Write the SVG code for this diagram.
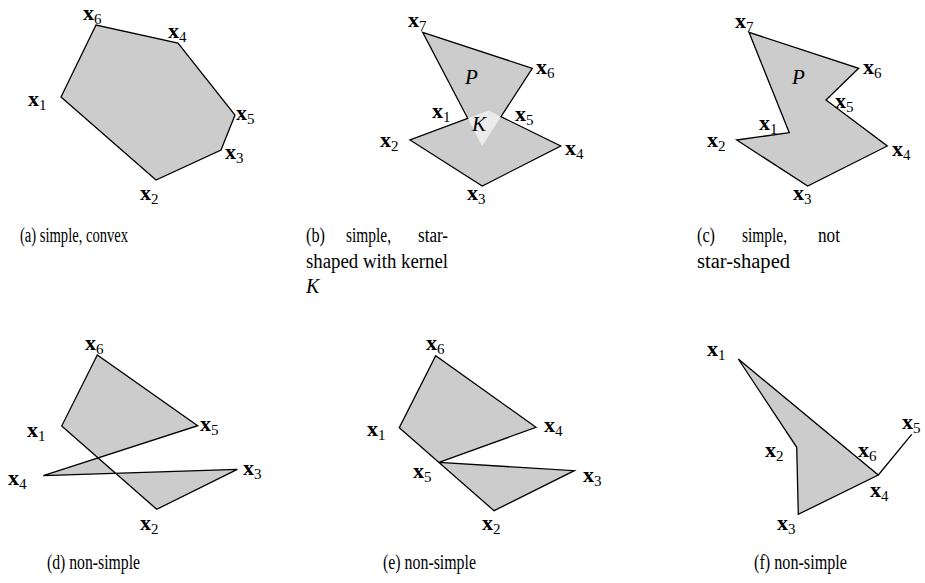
<svg xmlns="http://www.w3.org/2000/svg" width="925" height="583" viewBox="0 0 925 583">
<style>
.poly{fill:#cccccc;stroke:#000;stroke-width:1.3;stroke-linejoin:miter}
.fillonly{fill:#cccccc;stroke:none}
.edge{fill:none;stroke:#000;stroke-width:1.3}
.kern{fill:#ebebeb;stroke:none}
.v{font-family:"Liberation Serif",serif;fill:#000}
.xb{font-weight:bold;font-size:22px}
.sub{font-size:15px}
.it{font-family:"Liberation Serif",serif;font-style:italic;font-size:21px;fill:#000}
.cap{font-family:"Liberation Serif",serif;font-size:20px;fill:#000}
</style>
<rect width="925" height="583" fill="#fff"/>
<g id="connectors">
<polygon id="poly-a" class="poly" points="61,97 156,180 221,150 235,115 178,43 96,25"/>
<polygon id="poly-b-fill" class="fillonly" points="467.7,118.3 410,140 482.3,186 560.7,146 501,116.7 532.3,68.3 422.7,32.3"/>
<polygon id="kernel-b" class="kern" points="467.7,118.3 488.5,110.5 501,116.7 482.1,145.9"/>
<polygon id="poly-b" class="edge" points="467.7,118.3 410,140 482.3,186 560.7,146 501,116.7 532.3,68.3 422.7,32.3"/>
<polygon id="poly-c" class="poly" points="789.3,132.7 736.7,140 807.7,186 887.3,146 826,100 858.7,68.3 749,32.3"/>
<polygon id="poly-d" class="poly" points="61.7,426 156.7,509.3 237.3,469.3 43.3,475.7 197.7,425.7 97.3,355"/>
<polygon id="poly-e" class="poly" points="399.3,427.7 494,510.7 574.3,470.7 439,462.4 536,427.3 435.7,355.7"/>
<path id="poly-f" class="poly" d="M738.3,359 L796.7,447.3 L798.3,514.3 L878.3,475 L911.7,434.3 L878.3,475 Z"/>
</g>
<g id="panel-a">
<g id="a-x6"><text class="v" x="83" y="20"><tspan class="xb">x</tspan><tspan class="sub" dy="4">6</tspan></text></g>
<g id="a-x4"><text class="v" x="168" y="38"><tspan class="xb">x</tspan><tspan class="sub" dy="4">4</tspan></text></g>
<g id="a-x1"><text class="v" x="28" y="106"><tspan class="xb">x</tspan><tspan class="sub" dy="4">1</tspan></text></g>
<g id="a-x5"><text class="v" x="236" y="120"><tspan class="xb">x</tspan><tspan class="sub" dy="4">5</tspan></text></g>
<g id="a-x3"><text class="v" x="225" y="159"><tspan class="xb">x</tspan><tspan class="sub" dy="4">3</tspan></text></g>
<g id="a-x2"><text class="v" x="140" y="200"><tspan class="xb">x</tspan><tspan class="sub" dy="4">2</tspan></text></g>
</g>
<g id="panel-b">
<g id="b-x7"><text class="v" x="408" y="27"><tspan class="xb">x</tspan><tspan class="sub" dy="4">7</tspan></text></g>
<g id="b-x6"><text class="v" x="536" y="74"><tspan class="xb">x</tspan><tspan class="sub" dy="4">6</tspan></text></g>
<g id="b-P"><text class="it" x="465" y="84">P</text></g>
<g id="b-x1"><text class="v" x="432" y="118"><tspan class="xb">x</tspan><tspan class="sub" dy="4">1</tspan></text></g>
<g id="b-x5"><text class="v" x="515" y="121"><tspan class="xb">x</tspan><tspan class="sub" dy="4">5</tspan></text></g>
<g id="b-K"><text class="it" x="472" y="131">K</text></g>
<g id="b-x2"><text class="v" x="380" y="147"><tspan class="xb">x</tspan><tspan class="sub" dy="4">2</tspan></text></g>
<g id="b-x4"><text class="v" x="565" y="155"><tspan class="xb">x</tspan><tspan class="sub" dy="4">4</tspan></text></g>
<g id="b-x3"><text class="v" x="467" y="200"><tspan class="xb">x</tspan><tspan class="sub" dy="4">3</tspan></text></g>
</g>
<g id="panel-c">
<g id="c-x7"><text class="v" x="735" y="28"><tspan class="xb">x</tspan><tspan class="sub" dy="4">7</tspan></text></g>
<g id="c-x6"><text class="v" x="863" y="74"><tspan class="xb">x</tspan><tspan class="sub" dy="4">6</tspan></text></g>
<g id="c-P"><text class="it" x="792" y="84">P</text></g>
<g id="c-x5"><text class="v" x="835" y="108"><tspan class="xb">x</tspan><tspan class="sub" dy="4">5</tspan></text></g>
<g id="c-x1"><text class="v" x="759" y="130"><tspan class="xb">x</tspan><tspan class="sub" dy="4">1</tspan></text></g>
<g id="c-x2"><text class="v" x="707" y="147"><tspan class="xb">x</tspan><tspan class="sub" dy="4">2</tspan></text></g>
<g id="c-x4"><text class="v" x="892" y="156"><tspan class="xb">x</tspan><tspan class="sub" dy="4">4</tspan></text></g>
<g id="c-x3"><text class="v" x="793" y="200"><tspan class="xb">x</tspan><tspan class="sub" dy="4">3</tspan></text></g>
</g>
<g id="panel-d">
<g id="d-x6"><text class="v" x="85" y="350"><tspan class="xb">x</tspan><tspan class="sub" dy="4">6</tspan></text></g>
<g id="d-x1"><text class="v" x="27" y="437"><tspan class="xb">x</tspan><tspan class="sub" dy="4">1</tspan></text></g>
<g id="d-x5"><text class="v" x="200" y="431"><tspan class="xb">x</tspan><tspan class="sub" dy="4">5</tspan></text></g>
<g id="d-x3"><text class="v" x="243" y="475"><tspan class="xb">x</tspan><tspan class="sub" dy="4">3</tspan></text></g>
<g id="d-x4"><text class="v" x="8" y="485"><tspan class="xb">x</tspan><tspan class="sub" dy="4">4</tspan></text></g>
<g id="d-x2"><text class="v" x="140" y="530"><tspan class="xb">x</tspan><tspan class="sub" dy="4">2</tspan></text></g>
</g>
<g id="panel-e">
<g id="e-x6"><text class="v" x="426" y="350"><tspan class="xb">x</tspan><tspan class="sub" dy="4">6</tspan></text></g>
<g id="e-x1"><text class="v" x="367" y="436"><tspan class="xb">x</tspan><tspan class="sub" dy="4">1</tspan></text></g>
<g id="e-x4"><text class="v" x="544" y="432"><tspan class="xb">x</tspan><tspan class="sub" dy="4">4</tspan></text></g>
<g id="e-x5"><text class="v" x="413" y="478"><tspan class="xb">x</tspan><tspan class="sub" dy="4">5</tspan></text></g>
<g id="e-x3"><text class="v" x="583" y="482"><tspan class="xb">x</tspan><tspan class="sub" dy="4">3</tspan></text></g>
<g id="e-x2"><text class="v" x="482" y="530"><tspan class="xb">x</tspan><tspan class="sub" dy="4">2</tspan></text></g>
</g>
<g id="panel-f">
<g id="f-x1"><text class="v" x="707" y="356"><tspan class="xb">x</tspan><tspan class="sub" dy="4">1</tspan></text></g>
<g id="f-x5"><text class="v" x="902" y="429"><tspan class="xb">x</tspan><tspan class="sub" dy="4">5</tspan></text></g>
<g id="f-x2"><text class="v" x="765" y="457"><tspan class="xb">x</tspan><tspan class="sub" dy="4">2</tspan></text></g>
<g id="f-x6"><text class="v" x="858" y="457"><tspan class="xb">x</tspan><tspan class="sub" dy="4">6</tspan></text></g>
<g id="f-x4"><text class="v" x="870" y="497"><tspan class="xb">x</tspan><tspan class="sub" dy="4">4</tspan></text></g>
<g id="f-x3"><text class="v" x="777" y="530"><tspan class="xb">x</tspan><tspan class="sub" dy="4">3</tspan></text></g>
</g>
<g id="captions">
<text class="cap" x="20" y="242" textLength="108" lengthAdjust="spacingAndGlyphs">(a) simple, convex</text>
<text class="cap" x="306" y="242" textLength="19" lengthAdjust="spacingAndGlyphs">(b)</text>
<text class="cap" x="346" y="242" textLength="45" lengthAdjust="spacingAndGlyphs">simple,</text>
<text class="cap" x="418" y="242" textLength="30" lengthAdjust="spacingAndGlyphs">star-</text>
<text class="cap" x="306" y="268" textLength="142" lengthAdjust="spacingAndGlyphs">shaped with kernel</text>
<text class="it" style="font-size:20px" x="306" y="293">K</text>
<text class="cap" x="697" y="242" textLength="18" lengthAdjust="spacingAndGlyphs">(c)</text>
<text class="cap" x="742" y="242" textLength="45" lengthAdjust="spacingAndGlyphs">simple,</text>
<text class="cap" x="818" y="242" textLength="22" lengthAdjust="spacingAndGlyphs">not</text>
<text class="cap" x="697" y="268" textLength="93" lengthAdjust="spacingAndGlyphs">star-shaped</text>
<text class="cap" x="47" y="569" textLength="93" lengthAdjust="spacingAndGlyphs">(d) non-simple</text>
<text class="cap" x="383" y="569" textLength="93" lengthAdjust="spacingAndGlyphs">(e) non-simple</text>
<text class="cap" x="754" y="569" textLength="93" lengthAdjust="spacingAndGlyphs">(f) non-simple</text>
</g>
</svg>
